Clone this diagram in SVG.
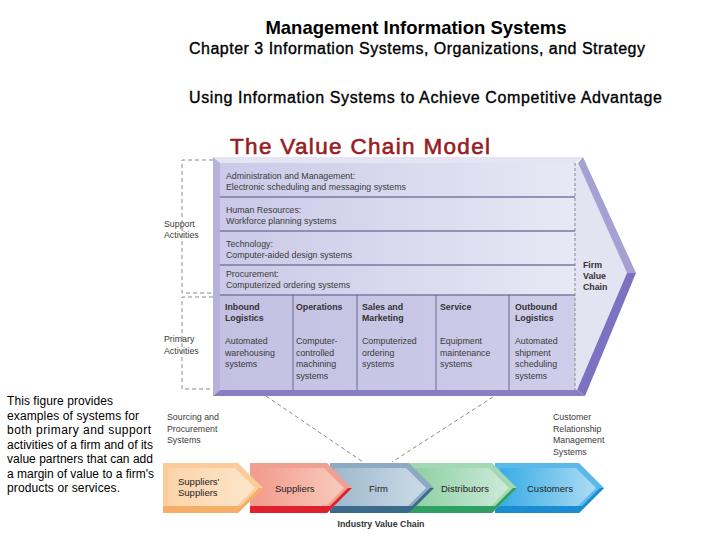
<svg xmlns="http://www.w3.org/2000/svg" width="720" height="540" viewBox="0 0 720 540">
<defs>
<style>
.t{font-family:"Liberation Sans",Arial,sans-serif;}
.s{font-family:"Liberation Sans",Arial,sans-serif;font-size:8.8px;fill:#3a3a3a;}
.h{font-family:"Liberation Sans",Arial,sans-serif;font-size:8.8px;fill:#333;font-weight:bold;}
.c{font-family:"Liberation Sans",Arial,sans-serif;font-size:9.5px;fill:#222;}
.p{font-family:"Liberation Sans",Arial,sans-serif;font-size:12px;fill:#000;}
.dash{fill:none;stroke:#8a8a8a;stroke-width:1;stroke-dasharray:4,3;}
.div{stroke:#7a78a0;stroke-width:1.6;}
.col{stroke:#6a6890;stroke-width:1;}
</style>
<linearGradient id="face" x1="0" y1="0" x2="1" y2="0">
<stop offset="0" stop-color="#cbc9e7"/><stop offset="1" stop-color="#e8e8f5"/>
</linearGradient>
<linearGradient id="prim" x1="0" y1="0" x2="1" y2="0">
<stop offset="0" stop-color="#c3c0e2"/><stop offset="1" stop-color="#cfcde9"/>
</linearGradient>
<linearGradient id="gSS" x1="0" y1="0" x2="1" y2="0"><stop offset="0" stop-color="#fcd4aa"/><stop offset="1" stop-color="#fde6cc"/></linearGradient>
<linearGradient id="gS" x1="0" y1="0" x2="1" y2="0"><stop offset="0" stop-color="#f29c8c"/><stop offset="1" stop-color="#f9cbbd"/></linearGradient>
<linearGradient id="gF" x1="0" y1="0" x2="1" y2="0"><stop offset="0" stop-color="#9fb9cd"/><stop offset="1" stop-color="#cbdbe7"/></linearGradient>
<linearGradient id="gD" x1="0" y1="0" x2="1" y2="0"><stop offset="0" stop-color="#8fd0a4"/><stop offset="1" stop-color="#cdeada"/></linearGradient>
<linearGradient id="gC" x1="0" y1="0" x2="1" y2="0"><stop offset="0" stop-color="#38ace6"/><stop offset="1" stop-color="#acdcf4"/></linearGradient>
</defs>
<rect width="720" height="540" fill="#fff"/>

<g id="titles">
<text class="t" x="416" y="34" font-size="18.5" font-weight="bold" text-anchor="middle" fill="#000">Management Information Systems</text>
<text class="t" x="189" y="54" font-size="16" fill="#000" stroke="#000" stroke-width="0.35" textLength="456">Chapter 3 Information Systems, Organizations, and Strategy</text>
<text class="t" x="189" y="103" font-size="16" fill="#000" stroke="#000" stroke-width="0.35" textLength="473">Using Information Systems to Achieve Competitive Advantage</text>
<text class="t" x="230" y="154" font-size="22.5" fill="#981b1e" stroke="#981b1e" stroke-width="0.6" textLength="260">The Value Chain Model</text>
</g>

<g id="note">
<text class="p" x="7" y="405" textLength="106">This figure provides</text>
<text class="p" x="7" y="419.5" textLength="132">examples of systems for</text>
<text class="p" x="7" y="434" textLength="144">both primary and support</text>
<text class="p" x="7" y="448.5" textLength="146">activities of a firm and of its</text>
<text class="p" x="7" y="463" textLength="146">value partners that can add</text>
<text class="p" x="7" y="477.5" textLength="147">a margin of value to a firm's</text>
<text class="p" x="7" y="492" textLength="113">products or services.</text>
</g>

<g id="firm-value-chain">
<polygon points="213,157 583,157 575,163 220,163" fill="#e4e4f2"/>
<polygon points="213,157 220,163 220,390 213,396" fill="#b6b2da"/>
<rect x="220" y="163" width="355" height="132" fill="url(#face)"/>
<rect x="220" y="295" width="355" height="95" fill="url(#prim)"/>
<polygon points="575,163 578,163 627,273 577,390 575,390" fill="#e3e3f2"/>
<polygon points="583,157 636,273 627,273 578,163" fill="#a7a1d3"/>
<polygon points="627,273 636,273 585,396 577,390" fill="#7d72c1"/>
<polygon points="213,396 585,396 577,390 220,390" fill="#8a7ec3"/>
<line class="div" x1="220" y1="197" x2="575" y2="197"/>
<line class="div" x1="220" y1="231" x2="575" y2="231"/>
<line class="div" x1="220" y1="265" x2="575" y2="265"/>
<line class="div" x1="220" y1="295" x2="575" y2="295"/>
<line class="col" x1="293" y1="295" x2="293" y2="390"/>
<line class="col" x1="357" y1="295" x2="357" y2="390"/>
<line class="col" x1="436" y1="295" x2="436" y2="390"/>
<line class="col" x1="509" y1="295" x2="509" y2="390"/>
<line x1="575" y1="163" x2="575" y2="390" stroke="#8a8a8a" stroke-width="1" stroke-dasharray="3,2"/>
</g>

<g id="support-activities">
<text class="s" x="226" y="179">Administration and Management:</text>
<text class="s" x="226" y="190">Electronic scheduling and messaging systems</text>
<text class="s" x="226" y="213">Human Resources:</text>
<text class="s" x="226" y="224">Workforce planning systems</text>
<text class="s" x="226" y="247">Technology:</text>
<text class="s" x="226" y="258">Computer-aided design systems</text>
<text class="s" x="226" y="277">Procurement:</text>
<text class="s" x="226" y="288">Computerized ordering systems</text>
</g>

<g id="primary-activities">
<text class="h" x="225" y="310">Inbound</text>
<text class="h" x="225" y="321">Logistics</text>
<text class="s" x="225" y="344">Automated</text>
<text class="s" x="225" y="355.5">warehousing</text>
<text class="s" x="225" y="367">systems</text>
<text class="h" x="296" y="310">Operations</text>
<text class="s" x="296" y="344">Computer-</text>
<text class="s" x="296" y="355.5">controlled</text>
<text class="s" x="296" y="367">machining</text>
<text class="s" x="296" y="378.5">systems</text>
<text class="h" x="362" y="310">Sales and</text>
<text class="h" x="362" y="321">Marketing</text>
<text class="s" x="362" y="344">Computerized</text>
<text class="s" x="362" y="355.5">ordering</text>
<text class="s" x="362" y="367">systems</text>
<text class="h" x="440" y="310">Service</text>
<text class="s" x="440" y="344">Equipment</text>
<text class="s" x="440" y="355.5">maintenance</text>
<text class="s" x="440" y="367">systems</text>
<text class="h" x="515" y="310">Outbound</text>
<text class="h" x="515" y="321">Logistics</text>
<text class="s" x="515" y="344">Automated</text>
<text class="s" x="515" y="355.5">shipment</text>
<text class="s" x="515" y="367">scheduling</text>
<text class="s" x="515" y="378.5">systems</text>
</g>

<g id="labels">
<text class="h" x="583" y="268" fill="#4a4a4a">Firm</text>
<text class="h" x="583" y="279" fill="#4a4a4a">Value</text>
<text class="h" x="583" y="290" fill="#4a4a4a">Chain</text>
<text class="s" x="164" y="227">Support</text>
<text class="s" x="164" y="238">Activities</text>
<text class="s" x="164" y="342">Primary</text>
<text class="s" x="164" y="354">Activities</text>
<text class="s" x="167" y="420">Sourcing and</text>
<text class="s" x="167" y="431.5">Procurement</text>
<text class="s" x="167" y="443">Systems</text>
<text class="s" x="553" y="420">Customer</text>
<text class="s" x="553" y="431.5">Relationship</text>
<text class="s" x="553" y="443">Management</text>
<text class="s" x="553" y="454.5">Systems</text>
<text class="h" x="381" y="527" text-anchor="middle" fill="#333">Industry Value Chain</text>
</g>

<g id="connectors">
<path class="dash" d="M213,160 H182 V293 H213"/>
<path class="dash" d="M213,297 H182 V389 H213"/>
<line class="dash" x1="266" y1="396" x2="363" y2="462"/>
<line class="dash" x1="493" y1="397" x2="392" y2="462"/>
</g>

<g id="industry-value-chain">
<g id="customers">
<polygon points="495,463 579,463 604,488 579,513 495,513" fill="#5ab9e8"/>
<polygon points="495,506 582,506 600,488 604,488 579,513 495,513" fill="#1c8cd2"/>
<polygon points="500,468 576,468 596,488 578,506 500,506" fill="url(#gC)"/>
<text class="c" x="527" y="491.5" fill="#13304e">Customers</text>
</g>
<g id="distributors">
<polygon points="410,463 492,463 517,488 492,513 410,513" fill="#a4d8b4"/>
<polygon points="410,506 495,506 513,488 517,488 492,513 410,513" fill="#2fa062"/>
<polygon points="415,468 489,468 509,488 491,506 415,506" fill="url(#gD)"/>
<text class="c" x="441" y="491.5" fill="#13304e">Distributors</text>
</g>
<g id="firm">
<polygon points="330,463 409,463 434,488 409,513 330,513" fill="#8cabc2"/>
<polygon points="330,506 412,506 430,488 434,488 409,513 330,513" fill="#3b6a8a"/>
<polygon points="335,468 406,468 426,488 408,506 335,506" fill="url(#gF)"/>
<text class="c" x="369" y="491.5" fill="#1e2e40">Firm</text>
</g>
<g id="suppliers">
<polygon points="250,463 327,463 352,488 327,513 250,513" fill="#f0a090"/>
<polygon points="250,506 330,506 348,488 352,488 327,513 250,513" fill="#e0202c"/>
<polygon points="255,468 324,468 344,488 326,506 255,506" fill="url(#gS)"/>
<text class="c" x="275" y="491.5">Suppliers</text>
</g>
<g id="suppliers-suppliers">
<polygon points="163,463 238,463 263,488 238,513 163,513" fill="#fbcb9c"/>
<polygon points="163,506 241,506 259,488 263,488 238,513 163,513" fill="#f5ad68"/>
<polygon points="168,468 235,468 255,488 237,506 168,506" fill="url(#gSS)"/>
<text class="c" x="178" y="485">Suppliers'</text>
<text class="c" x="178" y="496">Suppliers</text>
</g>
</g>
</svg>
